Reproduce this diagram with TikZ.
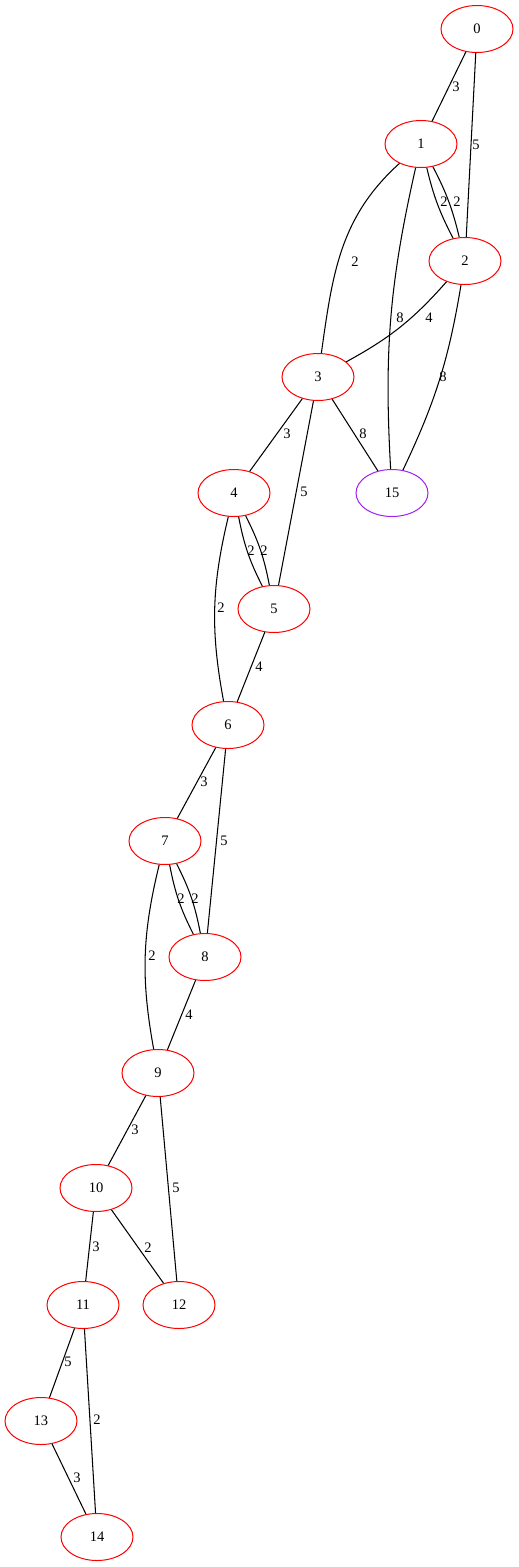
\documentclass[tikz,border=0pt]{standalone}
\usepackage{fontspec}
\setmainfont{Liberation Serif}
\usetikzlibrary{shapes.geometric}
\tikzset{
  gnode/.style={ellipse, draw=red, line width=1pt, minimum width=72pt, minimum height=47pt, inner sep=0pt, font=\fontsize{14.5}{16}\selectfont},
  pnode/.style={gnode},
  elabel/.style={inner sep=0pt, font=\fontsize{14.5}{16}\selectfont},
  edge/.style={draw=black, line width=1.05pt}
}
\definecolor{purplenode}{RGB}{160,32,240}
\begin{document}
\begin{tikzpicture}[x=1pt, y=-1pt]
\useasboundingbox (0,0) rectangle (519,1567);
\node[gnode] (n0) at (477,29) {0};
\node[gnode] (n1) at (421,144) {1};
\node[gnode] (n2) at (465,261) {2};
\node[gnode] (n3) at (318,377) {3};
\node[pnode, draw=purplenode] (n15) at (392,493) {15};
\node[gnode] (n4) at (234,493) {4};
\node[gnode] (n5) at (274,609) {5};
\node[gnode] (n6) at (228,725) {6};
\node[gnode] (n7) at (165,841) {7};
\node[gnode] (n8) at (205,957) {8};
\node[gnode] (n9) at (158,1073) {9};
\node[gnode] (n10) at (96,1188) {10};
\node[gnode] (n11) at (83,1305) {11};
\node[gnode] (n12) at (179,1305) {12};
\node[gnode] (n13) at (41,1421) {13};
\node[gnode] (n14) at (97,1537) {14};

\draw[edge] (n0) -- (n1);
\draw[edge] (n0) -- (n2);
\draw[edge] (n1) to[bend left=7] (n2);
\draw[edge] (n1) to[bend right=7] (n2);
\draw[edge] (n1) to[out=222, in=82] (n3);
\draw[edge] (n1) to[bend right=8] (n15);
\draw[edge] (n2) to[bend left=10] (n3);
\draw[edge] (n2) to[bend left=8] (n15);
\draw[edge] (n3) -- (n4);
\draw[edge] (n3) -- (n15);
\draw[edge] (n3) -- (n5);
\draw[edge] (n4) to[bend left=8] (n5);
\draw[edge] (n4) to[bend right=8] (n5);
\draw[edge] (n4) to[bend right=12] (n6);
\draw[edge] (n5) -- (n6);
\draw[edge] (n6) -- (n7);
\draw[edge] (n6) -- (n8);
\draw[edge] (n7) to[bend left=8] (n8);
\draw[edge] (n7) to[bend right=8] (n8);
\draw[edge] (n7) to[bend right=12] (n9);
\draw[edge] (n8) -- (n9);
\draw[edge] (n9) -- (n10);
\draw[edge] (n9) -- (n12);
\draw[edge] (n10) -- (n11);
\draw[edge] (n10) -- (n12);
\draw[edge] (n11) -- (n13);
\draw[edge] (n11) -- (n14);
\draw[edge] (n13) -- (n14);

\node[elabel] (l01) at (456,87) {3};
\node[elabel] (l02) at (476,145) {5};
\node[elabel] (l12a) at (444,202) {2};
\node[elabel] (l12b) at (457,202) {2};
\node[elabel] (l13) at (355,262) {2};
\node[elabel] (l115) at (400,318) {8};
\node[elabel] (l23) at (429,318) {4};
\node[elabel] (l215) at (443,377) {8};
\node[elabel] (l315) at (363,434) {8};
\node[elabel] (l34) at (287,434) {3};
\node[elabel] (l35) at (304,492) {5};
\node[elabel] (l45a) at (251,551) {2};
\node[elabel] (l45b) at (264,551) {2};
\node[elabel] (l46) at (221,608) {2};
\node[elabel] (l56) at (259,667) {4};
\node[elabel] (l67) at (204,782) {3};
\node[elabel] (l68) at (224,841) {5};
\node[elabel] (l78a) at (181,899) {2};
\node[elabel] (l78b) at (195,899) {2};
\node[elabel] (l79) at (152,956) {2};
\node[elabel] (l89) at (189,1015) {4};
\node[elabel] (l910) at (135,1130) {3};
\node[elabel] (l912) at (176,1188) {5};
\node[elabel] (l1011) at (96,1247) {3};
\node[elabel] (l1012) at (148,1248) {2};
\node[elabel] (l1113) at (68,1362) {5};
\node[elabel] (l1114) at (97,1420) {2};
\node[elabel] (l1314) at (77,1478) {3};
\end{tikzpicture}
\end{document}
